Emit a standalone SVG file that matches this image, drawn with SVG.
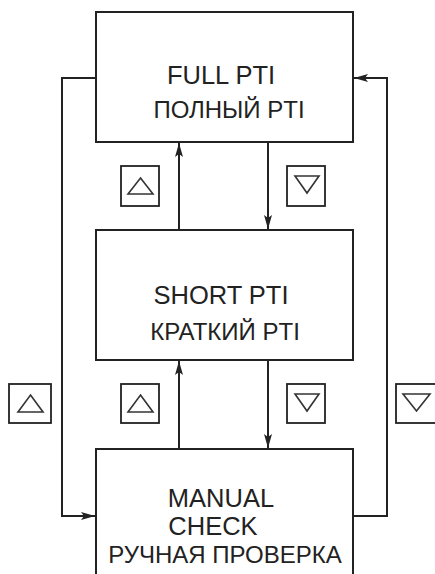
<svg xmlns="http://www.w3.org/2000/svg" width="435" height="574" viewBox="0 0 435 574">
<style>
.box{fill:#fff;stroke:#222;stroke-width:2}
.ln{fill:none;stroke:#222;stroke-width:2}
.icon{fill:#fff;stroke:#222;stroke-width:1.8}
.tri{fill:none;stroke:#333;stroke-width:1.6;stroke-linejoin:miter}
.t{font-family:"Liberation Sans",Arial,sans-serif;font-size:24px;fill:#222;text-anchor:middle}
.l{font-size:25.5px}
</style>
<defs>
<marker id="ah" viewBox="0 0 14 8" refX="14" refY="4" markerWidth="14" markerHeight="8" markerUnits="userSpaceOnUse" orient="auto">
<path d="M0,0 L14,4 L0,8 L3,4 z" fill="#222"/>
</marker>
</defs>
<rect width="435" height="574" fill="#fff"/>
<g id="connectors">
<path class="ln" d="M96,78 H62 V516 H95" marker-end="url(#ah)"/>
<path class="ln" d="M353,516 H387 V78 H354" marker-end="url(#ah)"/>
<path class="ln" d="M179,230 V143" marker-end="url(#ah)"/>
<path class="ln" d="M268,142 V229" marker-end="url(#ah)"/>
<path class="ln" d="M179,449 V361" marker-end="url(#ah)"/>
<path class="ln" d="M268,360 V448" marker-end="url(#ah)"/>
</g>
<g id="full-pti">
<rect class="box" x="96" y="12" width="257" height="130"/>
<text class="t l" x="221" y="84">FULL PTI</text>
<text class="t" x="229" y="118">ПОЛНЫЙ PTI</text>
</g>
<g id="short-pti">
<rect class="box" x="96" y="230" width="257" height="130"/>
<text class="t l" x="221" y="304">SHORT PTI</text>
<text class="t" x="225" y="340">КРАТКИЙ PTI</text>
</g>
<g id="manual-check">
<rect class="box" x="96" y="449" width="257" height="140"/>
<text class="t l" x="221" y="507">MANUAL</text>
<text class="t l" x="213" y="535">CHECK</text>
<text class="t" x="225" y="563">РУЧНАЯ ПРОВЕРКА</text>
</g>
<g id="key-up-1">
<rect class="icon" x="121" y="166" width="38" height="40"/>
<path class="tri" d="M140.5,178 L153,194 H128 Z"/>
</g>
<g id="key-down-1">
<rect class="icon" x="287" y="166" width="38" height="40"/>
<path class="tri" d="M295,176 H319 L307,193 Z"/>
</g>
<g id="key-up-left">
<rect class="icon" x="9" y="384" width="42" height="39"/>
<path class="tri" d="M30.5,395 L43,412 H18 Z"/>
</g>
<g id="key-up-2">
<rect class="icon" x="121" y="384" width="38" height="39"/>
<path class="tri" d="M140.5,395 L153,412 H128 Z"/>
</g>
<g id="key-down-2">
<rect class="icon" x="287" y="384" width="38" height="39"/>
<path class="tri" d="M295,394 H319 L307,411 Z"/>
</g>
<g id="key-down-right">
<rect class="icon" x="396" y="384" width="42" height="39"/>
<path class="tri" d="M403,394 H430 L416.5,411 Z"/>
</g>
</svg>
